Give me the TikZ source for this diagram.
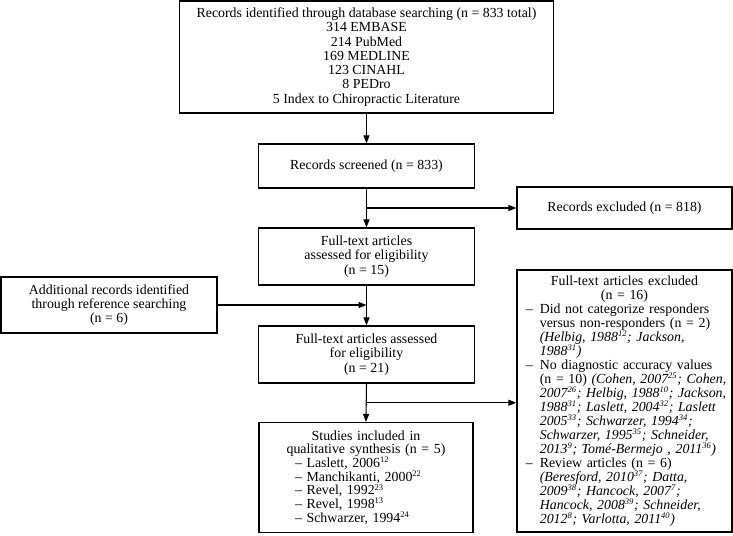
\documentclass[tikz,border=0pt]{standalone}
\usepackage{fontspec}
\setmainfont{Liberation Serif}
\usetikzlibrary{arrows.meta,calc}
\newcommand\exctr[1]{\makebox[148pt]{#1}}
\newcommand\exd[1]{\makebox[10.5pt][l]{\textendash}\mbox{#1}}
\newcommand\exi[1]{\hspace*{10.5pt}\mbox{#1}}
\newcommand\exit[1]{\hspace*{10.5pt}\mbox{\itshape #1}}
\newcommand\stctr[1]{\makebox[150pt]{#1}}
\newcommand\stind{\hspace*{21.75pt}}
\newcommand\sups[1]{\textsuperscript{\fontsize{6.4}{6.4}\selectfont #1}}
\begin{document}
\begin{tikzpicture}[x=0.75pt,y=-0.75pt,
  box/.style={draw, line width=0.9pt, inner sep=0pt, font=\fontsize{10.4}{10.7}\selectfont, align=center},
  arr/.style={line width=0.8pt, -{Triangle[length=6pt,width=4.5pt]}},
  ln/.style={line width=0.8pt}]
\useasboundingbox (0,0) rectangle (733,536);

\node[box, minimum width=280.5pt, minimum height=84pt] (top) at (366.5,57)
 {Records identified through database searching (n = 833 total)\\314 EMBASE\\214 PubMed\\169 MEDLINE\\123 CINAHL\\8 PEDro\\5 Index to Chiropractic Literature};

\node[box, minimum width=162pt, minimum height=33pt] (screened) at (366.5,166)
 {Records screened (n = 833)};

\node[box, minimum width=161.25pt, minimum height=31.5pt] (excluded) at (624.5,208)
 {Records excluded (n = 818)};

\node[box, minimum width=162pt, minimum height=42.75pt] (ft1) at (366.5,256.5)
 {Full-text articles\\assessed for eligibility\\(n = 15)};

\node[box, minimum width=162pt, minimum height=42pt] (add) at (109,305)
 {Additional records identified\\through reference searching\\(n = 6)};

\node[box, minimum width=162pt, minimum height=42.75pt] (ft2) at (366.5,354.5)
 {Full-text articles assessed\\for eligibility\\(n = 21)};

\node[box, minimum width=161.25pt, minimum height=196.5pt, text width=148pt, inner xsep=6.625pt, align=left,
      font=\fontsize{10.4}{10.5}\selectfont] (exfull) at (624.5,401)
 {\lineskiplimit=-6pt
  \exctr{Full-text articles excluded}\\
  \exctr{(n = 16)}\\
  \exd{Did not categorize responders}\\
  \exi{versus non-responders (n = 2)}\\
  \exit{(Helbig, 1988\sups{12}; Jackson,}\\
  \exit{1988\sups{31})}\\
  \exd{No diagnostic accuracy values}\\
  \exi{(n = 10) \textit{(Cohen, 2007\sups{25}; Cohen,}}\\
  \exit{2007\sups{26}; Helbig, 1988\sups{10}; Jackson,}\\
  \exit{1988\sups{31}; Laslett, 2004\sups{32}; Laslett}\\
  \exit{2005\sups{33}; Schwarzer, 1994\sups{34};}\\
  \exit{Schwarzer, 1995\sups{35}; Schneider,}\\
  \exit{2013\sups{9}; Tomé-Bermejo , 2011\sups{36})}\\
  \exd{Review articles (n = 6)}\\
  \exit{(Beresford, 2010\sups{37}; Datta,}\\
  \exit{2009\sups{38}; Hancock, 2007\sups{7};}\\
  \exit{Hancock, 2008\sups{39}; Schneider,}\\
  \exit{2012\sups{8}; Varlotta, 2011\sups{40})}};

\node[box, minimum width=160.5pt, minimum height=82.5pt, text width=150pt, inner xsep=5.25pt, align=left,
      font=\fontsize{10.4}{10.3}\selectfont] (studies) at (366,477.5)
 {\lineskiplimit=-6pt
  \stctr{Studies included in}\\
  \stctr{qualitative synthesis (n = 5)}\\
  \stind\textendash{} Laslett, 2006\sups{12}\\
  \stind\textendash{} Manchikanti, 2000\sups{22}\\
  \stind\textendash{} Revel, 1992\sups{23}\\
  \stind\textendash{} Revel, 1998\sups{13}\\
  \stind\textendash{} Schwarzer, 1994\sups{24}};

\coordinate (b1) at ($(screened.south)!0.5!(ft1.north)$);
\coordinate (b2) at ($(ft2.south)!0.5!(studies.north)$);

\draw[arr] (top.south) -- (screened.north);
\draw[arr] (screened.south) -- (ft1.north);
\draw[arr] (b1) -- (b1 -| excluded.west);
\draw[arr] (ft1.south) -- (ft2.north);
\draw[arr] (add.east) -- (add.east -| ft1.south);
\draw[arr] (ft2.south) -- (studies.north);
\draw[arr] (b2) -- (b2 -| exfull.west);
\end{tikzpicture}
\end{document}
